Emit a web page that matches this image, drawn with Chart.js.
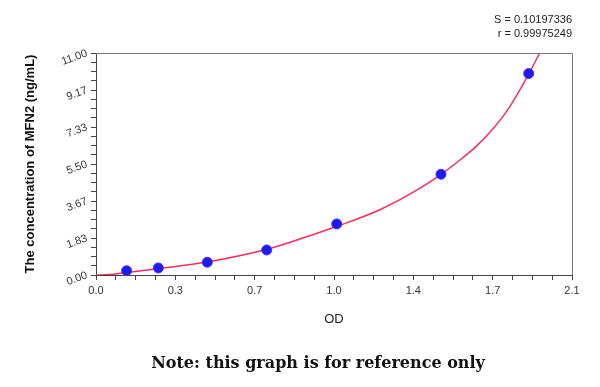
<!DOCTYPE html>
<html>
<head>
<meta charset="utf-8">
<script src="https://cdn.jsdelivr.net/npm/chart.js@4/dist/chart.umd.min.js"></script>
<style>
  html, body { margin: 0; padding: 0; background: #fff; }
  #wrap { width: 600px; height: 387px; }
</style>
</head>
<body>
<div id="wrap"><canvas id="stdCurve"></canvas></div>
<script>
// Standard points (OD vs concentration)
const odValues = [0.135, 0.275, 0.491, 0.753, 1.062, 1.522, 1.909];
const concValues = [0.21, 0.35, 0.63, 1.24, 2.53, 4.99, 9.98];

// Fitted curve
const curveOd = [0, 0.06, 0.12, 0.27, 0.49, 0.75, 0.85, 1.06, 1.25, 1.43, 1.52, 1.60, 1.67, 1.74, 1.81, 1.86, 1.91, 1.96];
const curveConc = [0, 0.02, 0.10, 0.31, 0.64, 1.26, 1.60, 2.40, 3.22, 4.30, 4.97, 5.65, 6.30, 7.10, 8.08, 8.98, 9.98, 11.05];

// Tick labels
const xTickLabels = ["0.0", "0.3", "0.7", "1.0", "1.4", "1.7", "2.1"];
const yTickLabels = ["0.00", "1.83", "3.67", "5.50", "7.33", "9.17", "11.00"];
const xMax = 2.1;
const yMax = 11;
const minorPerMajor = 4;

const fitStats = ["S = 0.10197336", "r = 0.99975249"];
const noteText = "Note: this graph is for reference only";

// builds major + minor tick positions
function tickList(max, labels) {
  const n = (labels.length - 1) * minorPerMajor;
  const out = [];
  for (let i = 0; i <= n; i++) out.push({ value: max * i / n });
  return out;
}

function tickLabel(labels) {
  return function (value, index) {
    return index % minorPerMajor === 0 ? labels[index / minorPerMajor] : "";
  };
}

// frame, fit stats and note
const extras = {
  id: "extras",
  afterDraw(chart) {
    const c = chart.ctx;
    const a = chart.chartArea;
    c.save();
    c.strokeStyle = "#777";
    c.lineWidth = 1;
    c.beginPath();
    c.moveTo(a.left, a.top + 0.5);
    c.lineTo(a.right + 0.5, a.top + 0.5);
    c.lineTo(a.right + 0.5, a.bottom);
    c.stroke();

    c.fillStyle = "#222";
    c.font = "11px 'Liberation Sans', Arial, sans-serif";
    c.textAlign = "right";
    c.textBaseline = "middle";
    c.fillText(fitStats[0], 572, 20);
    c.fillText(fitStats[1], 572, 34);

    c.fillStyle = "#111";
    c.font = "bold 16px 'DejaVu Serif', 'Liberation Serif', serif";
    c.textAlign = "center";
    c.fillText(noteText, 318, 364);
    c.restore();
  }
};

const ctx = document.getElementById("stdCurve");
new Chart(ctx, {
  type: "scatter",
  data: {
    datasets: [
      {
        label: "Standards",
        data: odValues.map((x, i) => ({ x: x, y: concValues[i] })),
        backgroundColor: "#1c1cf2",
        borderColor: "#4a2ef0",
        borderWidth: 1,
        pointRadius: 5,
        order: 0
      },
      {
        label: "Fit",
        data: curveOd.map((x, i) => ({ x: x, y: curveConc[i] })),
        showLine: true,
        borderColor: "#ff2a5c",
        borderWidth: 1.5,
        pointRadius: 0,
        cubicInterpolationMode: "monotone",
        order: 1
      }
    ]
  },
  options: {
    responsive: true,
    maintainAspectRatio: false,
    animation: false,
    layout: { padding: { top: 53, right: 28, bottom: 52, left: 0 } },
    plugins: {
      legend: { display: false },
      tooltip: { enabled: false }
    },
    scales: {
      x: {
        type: "linear",
        min: 0,
        max: xMax,
        afterBuildTicks: (s) => { s.ticks = tickList(xMax, xTickLabels); },
        afterFit: (s) => { s.height = 60; },
        grid: { drawOnChartArea: false, tickLength: 5, color: "#444" },
        border: { color: "#444" },
        ticks: {
          autoSkip: false,
          maxRotation: 0,
          padding: 4,
          color: "#333",
          font: { family: "'Liberation Sans', Arial, sans-serif", size: 11 },
          callback: tickLabel(xTickLabels)
        },
        title: {
          display: true,
          text: "OD",
          color: "#222",
          padding: { top: 4, bottom: 8 },
          font: { family: "'Liberation Sans', Arial, sans-serif", size: 13 }
        }
      },
      y: {
        type: "linear",
        min: 0,
        max: yMax,
        afterBuildTicks: (s) => { s.ticks = tickList(yMax, yTickLabels); },
        afterFit: (s) => { s.width = 96; },
        grid: { drawOnChartArea: false, tickLength: 5, color: "#444" },
        border: { color: "#444" },
        ticks: {
          autoSkip: false,
          minRotation: 20,
          maxRotation: 20,
          padding: 4,
          color: "#333",
          font: { family: "'Liberation Sans', Arial, sans-serif", size: 11 },
          callback: tickLabel(yTickLabels)
        },
        title: {
          display: true,
          text: "The concentration of MFN2 (ng/mL)",
          color: "#111",
          padding: { top: 23, bottom: 4 },
          font: { family: "'Liberation Sans', Arial, sans-serif", size: 13, weight: "bold" }
        }
      }
    }
  },
  plugins: [extras]
});
</script>
</body>
</html>
